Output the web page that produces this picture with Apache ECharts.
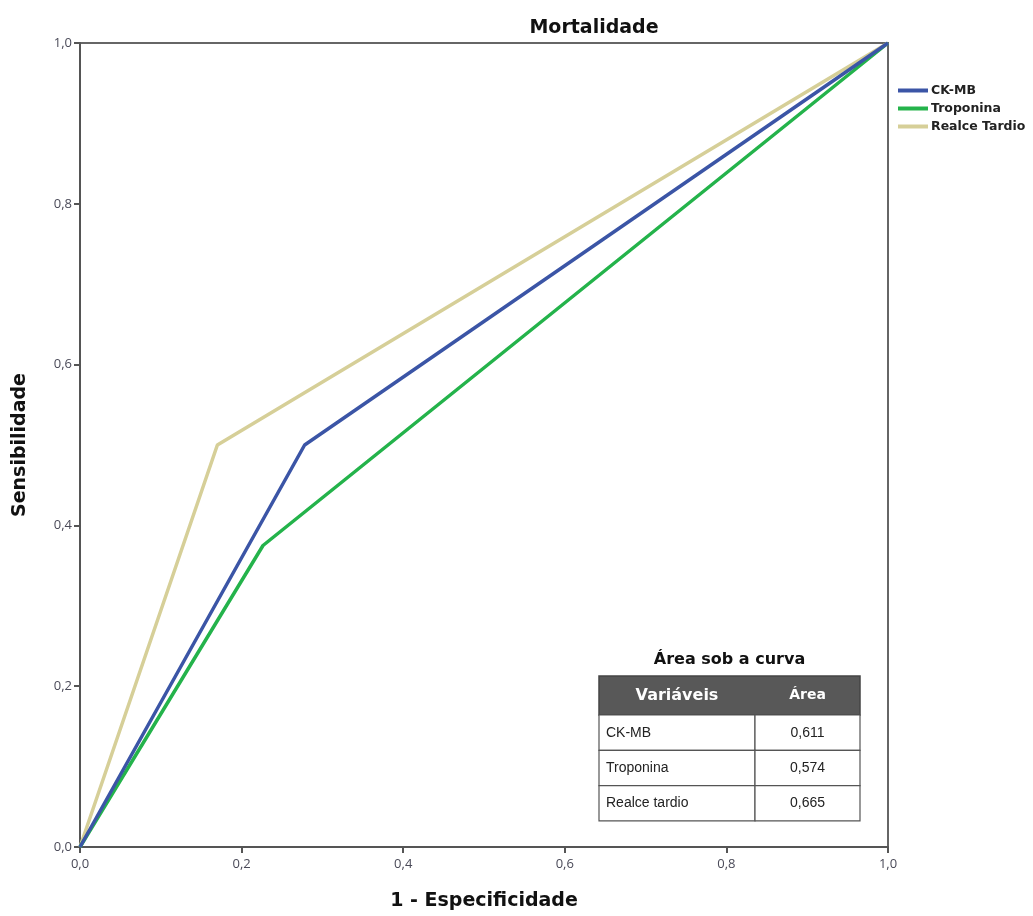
<!DOCTYPE html>
<html><head><meta charset="utf-8">
<script src="https://cdn.jsdelivr.net/npm/echarts@6/dist/echarts.min.js"></script>
<style>html,body{margin:0;padding:0;background:#fff}#c{width:1033px;height:916px}</style>
</head><body><div id="c"></div>
<script>
const seriesNames = ['CK-MB', 'Troponina', 'Realce Tardio'];
const ckmb = [[0, 0], [0.278, 0.5], [1, 1]];
const troponina = [[0, 0], [0.2265, 0.375], [1, 1]];
const realce = [[0, 0], [0.17, 0.5], [1, 1]];
const tableVars = ['CK-MB', 'Troponina', 'Realce tardio'];
const tableAreas = ['0,611', '0,574', '0,665'];
const colors = ['#3b55a6', '#24b34b', '#d6cf98'];

const chart = echarts.init(document.getElementById('c'));
const fmt = v => v.toFixed(1).replace('.', ',');
const font = '"DejaVu Sans", Verdana, sans-serif';
const font2 = '"Open Sans", "DejaVu Sans", sans-serif';

// table graphic
const tx = 599, tw1 = 156, tw2 = 105, ty = 676, hh = 39, rh = 35.3;
const g = [];
g.push({type:'text', x: tx + (tw1+tw2)/2, y: 660, style:{text:'Área sob a curva', align:'center', verticalAlign:'middle', font:'bold 16px ' + font, fill:'#111'}});
g.push({type:'rect', shape:{x:tx, y:ty, width:tw1+tw2, height:hh}, style:{fill:'#585858', stroke:'#444', lineWidth:1.5}});
g.push({type:'text', x: tx + tw1/2, y: ty + hh/2, style:{text:'Variáveis', align:'center', verticalAlign:'middle', font:'bold 16px ' + font, fill:'#fff'}});
g.push({type:'text', x: tx + tw1 + tw2/2, y: ty + hh/2, style:{text:'Área', align:'center', verticalAlign:'middle', font:'bold 14px ' + font, fill:'#fff'}});
tableVars.forEach((v, i) => {
  const y = ty + hh + i*rh;
  g.push({type:'rect', shape:{x:tx, y:y, width:tw1, height:rh}, style:{fill:'#fff', stroke:'#555', lineWidth:1.2}});
  g.push({type:'rect', shape:{x:tx+tw1, y:y, width:tw2, height:rh}, style:{fill:'#fff', stroke:'#555', lineWidth:1.2}});
  g.push({type:'text', x: tx + 7, y: y + rh/2, style:{text:v, align:'left', verticalAlign:'middle', font:'14px "Liberation Sans", Arial, sans-serif', fill:'#222'}});
  g.push({type:'text', x: tx + tw1 + tw2/2, y: y + rh/2, style:{text:tableAreas[i], align:'center', verticalAlign:'middle', font:'14px "Liberation Sans", Arial, sans-serif', fill:'#222'}});
});

const mk = (name, data, c) => ({
  name, type:'line', data, symbol:'none', lineStyle:{width:3.5, color:c}, itemStyle:{color:c}, animation:false
});

chart.setOption({
  animation:false,
  title:{text:'Mortalidade', left:589, top:14, textAlign:'center', textStyle:{fontFamily:font, fontWeight:'bold', fontSize:19, color:'#111'}},
  legend:{data:seriesNames, orient:'vertical', left:893, top:79, itemWidth:30, itemHeight:4, itemGap:5,
    icon:'rect', textStyle:{fontFamily:font, fontSize:12.5, fontWeight:'bold', color:'#222', padding:[0,0,0,-2]}},
  grid:{left:80, right:145, top:43, bottom:68, show:true, borderColor:'#666', borderWidth:2},
  xAxis:{type:'value', min:0, max:1, interval:0.2, name:'1 - Especificidade', nameLocation:'middle', nameGap:45,
    nameTextStyle:{fontFamily:font, fontSize:19, fontWeight:'bold', color:'#111'},
    axisLine:{lineStyle:{color:'#555', width:2}}, axisTick:{show:true, length:6, lineStyle:{color:'#555', width:2}},
    axisLabel:{formatter:fmt, fontFamily:font2, fontSize:13, color:'#4a4a58', margin:11}, splitLine:{show:false}},
  yAxis:{type:'value', min:0, max:1, interval:0.2, name:'Sensibilidade', nameLocation:'middle', nameGap:50,
    nameTextStyle:{fontFamily:font, fontSize:19, fontWeight:'bold', color:'#111'},
    axisLine:{lineStyle:{color:'#555', width:2}}, axisTick:{show:true, length:6, lineStyle:{color:'#555', width:2}},
    axisLabel:{formatter:fmt, fontFamily:font2, fontSize:13, color:'#4a4a58', margin:8}, splitLine:{show:false}},
  series:[mk('Realce Tardio', realce, colors[2]), mk('Troponina', troponina, colors[1]), mk('CK-MB', ckmb, colors[0])],
  graphic:g
});
</script></body></html>
